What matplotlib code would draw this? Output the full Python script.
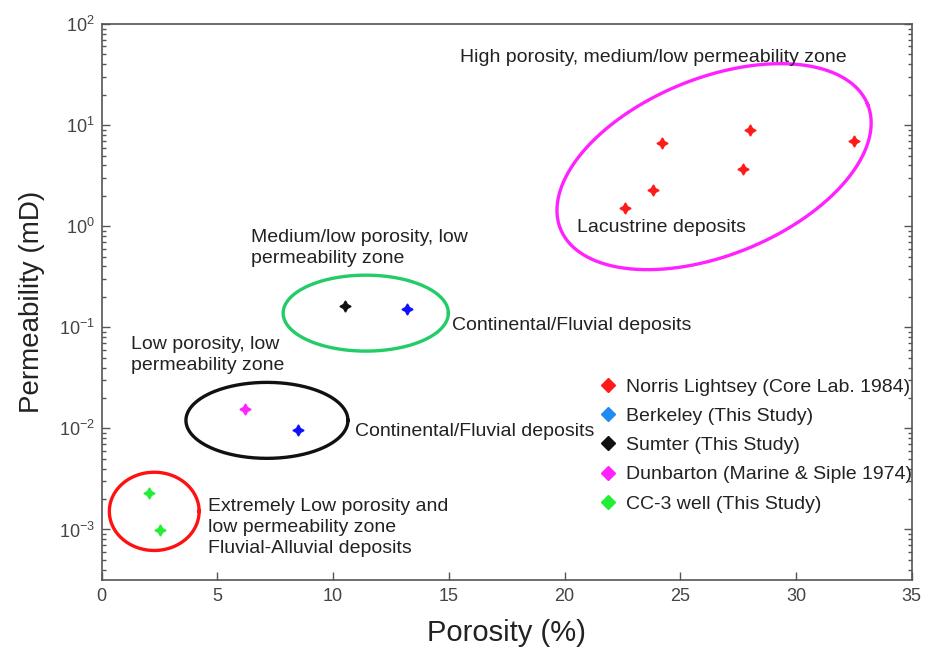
import matplotlib
matplotlib.use("Agg")
import matplotlib.pyplot as plt
from matplotlib.lines import Line2D
import numpy as np

plt.rcParams["font.family"] = ["Liberation Sans", "DejaVu Sans"]
plt.rcParams["mathtext.default"] = "regular"

# porosity (%) / permeability (mD) per data set
norris_phi = [22.6, 23.8, 24.2, 27.7, 28.0, 32.5]
norris_k = [1.52, 2.27, 6.7, 3.67, 8.9, 6.9]
berkeley_phi = [13.2, 8.5]
berkeley_k = [0.150, 0.0097]
sumter_phi = [10.5]
sumter_k = [0.161]
dunbarton_phi = [6.2]
dunbarton_k = [0.0154]
cc3_phi = [2.05, 2.5]
cc3_k = [0.00229, 0.00098]

series_labels = [
    "Norris Lightsey (Core Lab. 1984)",
    "Berkeley (This Study)",
    "Sumter (This Study)",
    "Dunbarton (Marine & Siple 1974)",
    "CC-3 well (This Study)",
]
legend_colors = ["#ff1a1a", "#1e8cf0", "#111111", "#ff22ff", "#22ee33"]

# zone outlines: centre (phi, k), semi-axes in porosity units, tilt in degrees
zone_centres = [(26.46, 3.88), (11.41, 0.138), (7.14, 0.012), (2.27, 0.00151)]
zone_axes = [(7.16, 3.82), (3.57, 1.64), (3.50, 1.64), (1.94, 1.69)]
zone_tilt = [22.1, 0.0, 0.0, 0.0]
zone_colors = ["#ff22ff", "#22cc66", "#111111", "#ff1111"]

# one decade on the log axis spans as much length as this many porosity units
UNITS_PER_DECADE = 4.365


def zone_outline(centre, axes, tilt, n=400):
    t = np.linspace(0, 2 * np.pi, n)
    th = np.deg2rad(tilt)
    u = axes[0] * np.cos(t)
    v = axes[1] * np.sin(t)
    dx = u * np.cos(th) - v * np.sin(th)
    dy = u * np.sin(th) + v * np.cos(th)
    return centre[0] + dx, centre[1] * 10 ** (dy / UNITS_PER_DECADE)


fig = plt.figure(figsize=(9.34, 6.5), dpi=100)
ax = fig.add_axes([101.7 / 934, 1 - 580 / 650, 810 / 934, 556 / 650])
ax.set_yscale("log")
ax.set_xlim(0, 35)
ax.set_ylim(10 ** -3.5, 100)

for c, a, tl, col in zip(zone_centres, zone_axes, zone_tilt, zone_colors):
    ex, ey = zone_outline(c, a, tl)
    ax.plot(ex, ey, color=col, linewidth=2.4, zorder=2)

star = (4, 1, 0)
ms = 8
ax.plot(norris_phi, norris_k, linestyle="none", marker=star, color="#ff1a1a", ms=ms, zorder=3)
ax.plot(berkeley_phi, berkeley_k, linestyle="none", marker=star, color="#1010ff", ms=ms, zorder=3)
ax.plot(sumter_phi, sumter_k, linestyle="none", marker=star, color="#111111", ms=ms, zorder=3)
ax.plot(dunbarton_phi, dunbarton_k, linestyle="none", marker=star, color="#ff22ff", ms=ms, zorder=3)
ax.plot(cc3_phi, cc3_k, linestyle="none", marker=star, color="#22ee33", ms=ms, zorder=3)

txt = dict(fontsize=14, color="#222222", va="center", ha="left", linespacing=1.3)
ax.text(15.48, 47.1, "High porosity, medium/low permeability zone", **txt)
ax.text(20.55, 0.977, "Lacustrine deposits", **txt)
ax.text(6.45, 0.605, "Medium/low porosity, low\npermeability zone", **txt)
ax.text(15.14, 0.105, "Continental/Fluvial deposits", **txt)
ax.text(1.27, 0.0528, "Low porosity, low\npermeability zone", **txt)
ax.text(10.95, 0.00933, "Continental/Fluvial deposits", **txt)
ax.text(4.59, 0.00105,
        "Extremely Low porosity and\nlow permeability zone\nFluvial-Alluvial deposits", **txt)

handles = [Line2D([], [], linestyle="none", marker="D", color=c, ms=7) for c in legend_colors]
ax.legend(handles, series_labels, loc="upper left", frameon=False, fontsize=14,
          bbox_to_anchor=(598 / 934, 1 - 378 / 650), bbox_transform=fig.transFigure,
          borderaxespad=0, borderpad=0, handlelength=1.0, handletextpad=0.45,
          labelspacing=0.6, labelcolor="#222222")

ax.set_xticks(np.arange(0, 36, 5))
ax.tick_params(axis="both", which="both", direction="in", top=False, right=True,
               colors="#555555", labelcolor="#444444", labelsize=13)
ax.tick_params(which="major", length=6, width=1)
ax.tick_params(which="minor", length=3, width=1)
ax.tick_params(axis="x", pad=6)
ax.tick_params(axis="y", pad=5)
for sp in ax.spines.values():
    sp.set_color("#555555")
    sp.set_linewidth(1.2)

ax.set_xlabel("Porosity (%)", fontsize=21, color="#222222", labelpad=10)
ax.set_ylabel("Permeability (mD)", fontsize=20, color="#222222", labelpad=10)

fig.savefig("out.png", dpi=100)
